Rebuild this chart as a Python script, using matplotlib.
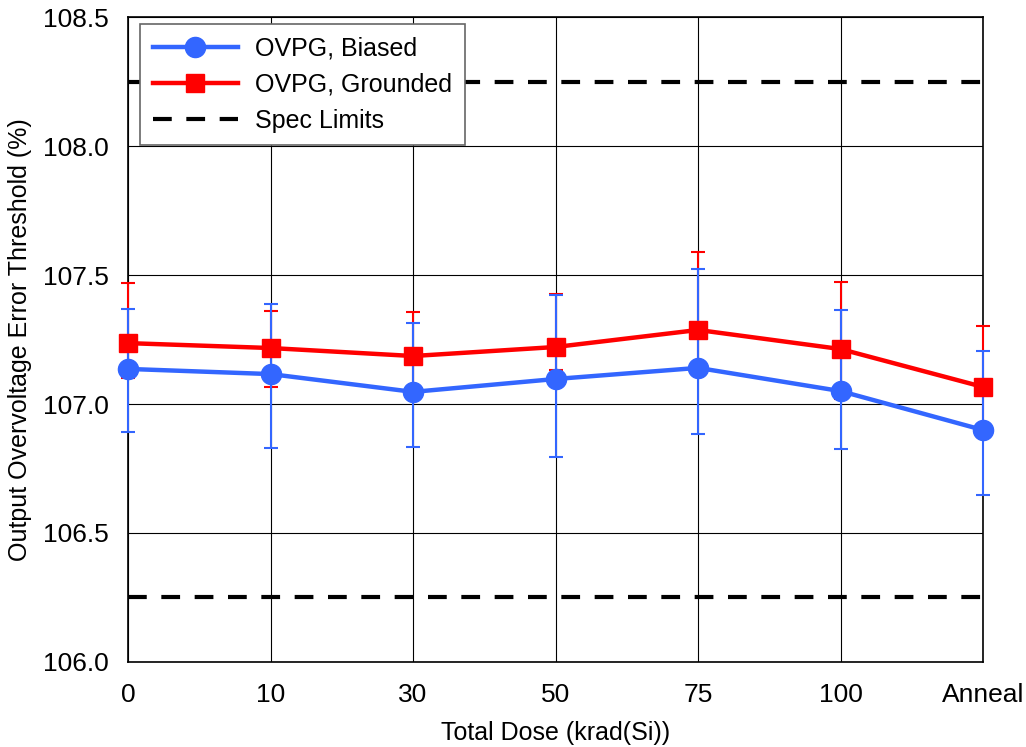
import matplotlib.pyplot as plt
import numpy as np

plt.rcParams['font.family'] = ['Liberation Sans', 'DejaVu Sans']

# Data
doses = ["0", "10", "30", "50", "75", "100", "Anneal"]
biased = [107.136, 107.116, 107.047, 107.097, 107.140, 107.050, 106.899]
biased_hi = [107.368, 107.388, 107.314, 107.422, 107.523, 107.364, 107.205]
biased_lo = [106.891, 106.829, 106.833, 106.795, 106.884, 106.826, 106.647]
grounded = [107.236, 107.217, 107.186, 107.221, 107.287, 107.213, 107.066]
grounded_hi = [107.469, 107.360, 107.357, 107.426, 107.589, 107.473, 107.302]
grounded_lo = [107.101, 107.066, 107.050, 107.132, 107.140, 107.019, 106.872]
spec_upper = 108.25
spec_lower = 106.25

x = np.arange(len(doses))
blue = "#3366ff"
red = "#ff0000"

fig = plt.figure(figsize=(10.26, 7.47), dpi=100)
ax = fig.add_axes([0.1248, 0.1138, 0.8334, 0.8634])

# spec limits
ax.plot(x, [spec_upper] * len(x), color="black", lw=3, dashes=(4.5, 3.5),
        label="Spec Limits", zorder=2)
ax.plot(x, [spec_lower] * len(x), color="black", lw=3, dashes=(4.5, 3.5), zorder=2)

# error bars
g = np.array(grounded)
b = np.array(biased)
eg = ax.errorbar(x, g, yerr=[g - np.array(grounded_lo), np.array(grounded_hi) - g],
                 fmt="none", ecolor=red, elinewidth=1.5, capsize=5, capthick=1.5, zorder=3)
eb = ax.errorbar(x, b, yerr=[b - np.array(biased_lo), np.array(biased_hi) - b],
                 fmt="none", ecolor=blue, elinewidth=1.5, capsize=5, capthick=1.5, zorder=4)
for cont in (eg, eb):
    for art in cont.lines[1] + cont.lines[2]:
        art.set_clip_on(False)

ax.plot(x, grounded, color=red, lw=3.2, marker="s", markersize=13, zorder=5,
        label="OVPG, Grounded", clip_on=False)
ax.plot(x, biased, color=blue, lw=3.2, marker="o", markersize=14.5, zorder=6,
        label="OVPG, Biased", clip_on=False)

ax.set_xlim(0, 6)
ax.set_ylim(106.0, 108.5)
ax.set_yticks(np.arange(106.0, 108.51, 0.5))
ax.set_yticklabels([f"{v:.1f}" for v in np.arange(106.0, 108.51, 0.5)])
ax.set_xticks(x)
ax.set_xticklabels(doses)
ax.tick_params(axis="both", length=0, labelsize=19)
ax.tick_params(axis="x", pad=15)
ax.tick_params(axis="y", pad=14)
ax.grid(True, color="black", lw=0.8)
ax.set_axisbelow(True)
for s in ax.spines.values():
    s.set_linewidth(1.2)

ax.set_xlabel("Total Dose (krad(Si))", fontsize=18, labelpad=10)
ax.set_ylabel("Output Overvoltage Error Threshold (%)", fontsize=18, labelpad=8)

h, l = ax.get_legend_handles_labels()
order = [2, 1, 0]
leg = ax.legend([h[i] for i in order], [l[i] for i in order], loc="upper left",
                bbox_to_anchor=(0.014, 0.989), borderaxespad=0, fontsize=18,
                handlelength=3.4, handletextpad=0.7, fancybox=False, framealpha=1,
                edgecolor="#666666", borderpad=0.5, labelspacing=0.48)
leg.get_frame().set_linewidth(1.2)

fig.savefig("out.png", dpi=100)
